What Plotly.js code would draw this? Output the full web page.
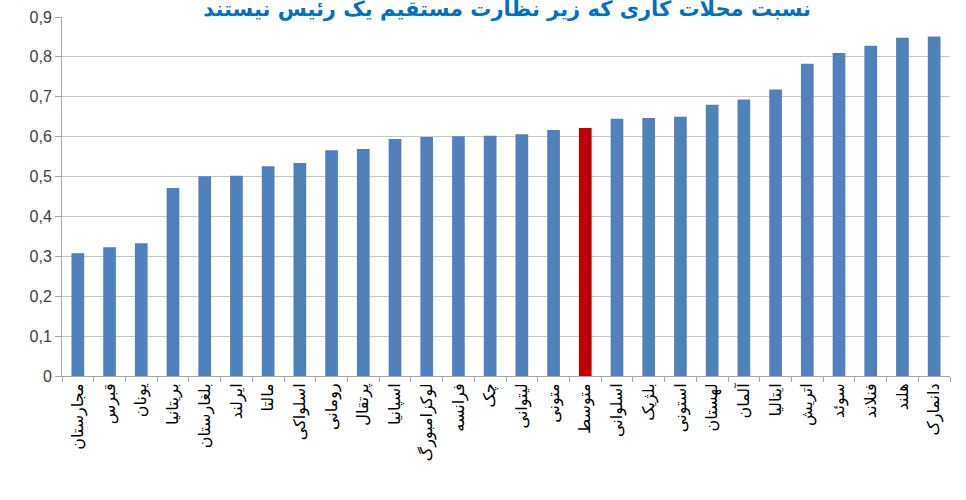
<!DOCTYPE html>
<html>
<head>
<meta charset="utf-8">
<script src="https://cdn.plot.ly/plotly-3.0.1.min.js"></script>
<style>html,body{margin:0;padding:0;background:#fff;}#chart{width:966px;height:500px;}</style>
</head>
<body>
<div id="chart"></div>
<script>
var categories = ["مجارستان","قبرس","یونان","بریتانیا","بلغارستان","ایرلند","مالتا","اسلواکی","رومانی","پرتقال","اسپانیا","لوکزامبورگ","فرانسه","چک","لیتوانی","متونی","متوسط","اسلوانی","بلژیک","استونی","لهستان","آلمان","ایتالیا","اتریش","سوئد","فنلاند","هلند","دانمارک"];
var values = [0.308,0.323,0.333,0.471,0.501,0.502,0.526,0.534,0.566,0.569,0.594,0.599,0.601,0.602,0.606,0.617,0.622,0.645,0.647,0.650,0.680,0.693,0.718,0.783,0.810,0.828,0.848,0.851];
var highlight = "متوسط";
var yTickVals = [0,0.1,0.2,0.3,0.4,0.5,0.6,0.7,0.8,0.9];
var yTickText = ["0","0,1","0,2","0,3","0,4","0,5","0,6","0,7","0,8","0,9"];
var titleText = "نسبت محلات کاری که زیر نظارت مستقیم یک رئیس نیستند";

var colors = categories.map(function(c){ return c === highlight ? "#c00000" : "#4f81bd"; });

var trace = {
  type: "bar",
  x: categories,
  y: values,
  marker: {color: colors, line: {width: 0}},
  hoverinfo: "x+y"
};

var layout = {
  width: 966, height: 500,
  margin: {l: 62, r: 16, t: 17, b: 124},
  paper_bgcolor: "#ffffff",
  plot_bgcolor: "#ffffff",
  bargap: 0.6,
  showlegend: false,
  title: {
    text: "<b>" + titleText + "</b>",
    font: {family: "DejaVu Sans, Noto Sans", size: 21, color: "#0070c0"},
    x: 0.525, xanchor: "center",
    yref: "container", y: 1.008, yanchor: "middle"
  },
  xaxis: {
    type: "category",
    tickangle: -90,
    tickfont: {family: "DejaVu Sans, Noto Sans", size: 16, color: "#000000"},
    showline: true, linecolor: "#a6a6a6", linewidth: 1,
    ticks: "outside", ticklen: 5, tickcolor: "#a6a6a6",
    tickson: "boundaries",
    showgrid: false,
    automargin: false
  },
  yaxis: {
    range: [0, 0.9],
    tickvals: yTickVals,
    ticktext: yTickText,
    tickfont: {family: "Liberation Sans, Arial", size: 16, color: "#404040"},
    showline: true, linecolor: "#a6a6a6", linewidth: 1,
    ticks: "outside", ticklen: 6, tickcolor: "#a6a6a6",
    showgrid: true, gridcolor: "#c8c8c8", gridwidth: 1,
    zeroline: false,
    automargin: false
  }
};

Plotly.newPlot("chart", [trace], layout, {displayModeBar: false, staticPlot: true});
</script>
</body>
</html>
